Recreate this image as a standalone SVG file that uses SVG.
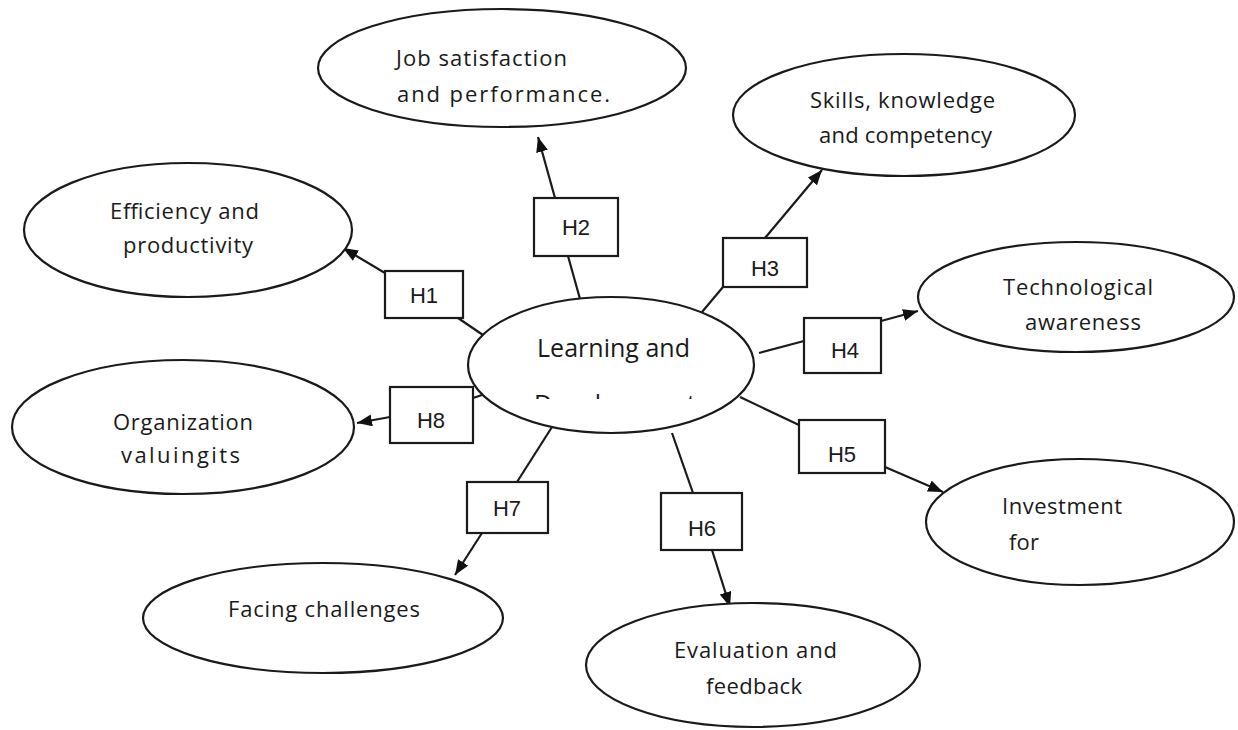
<svg xmlns="http://www.w3.org/2000/svg" width="1238" height="730" viewBox="0 0 1238 730">
<style>
  .node ellipse { fill: #fff; stroke: #1a1a1a; stroke-width: 2.2; }
  .box rect { fill: #fff; stroke: #1a1a1a; stroke-width: 2.2; }
  .lbl { font-family: "Open Sans", "Liberation Sans", sans-serif; font-size: 22px; fill: #1a1a1a; }
  .big { font-size: 25px; }
  .h { font-family: "Liberation Sans", Arial, sans-serif; font-size: 22px; fill: #1a1a1a; text-anchor: middle; }
  .conn line { stroke: #1a1a1a; stroke-width: 2.2; }
  .arr { marker-end: url(#ah); }
</style>
<defs>
  <marker id="ah" markerUnits="userSpaceOnUse" markerWidth="15" markerHeight="12" refX="15" refY="6" orient="auto">
    <path d="M0,0 L15,6 L0,12 z" fill="#111"/>
  </marker>
  <clipPath id="clipDev"><rect x="520" y="394" width="200" height="5"/></clipPath>
</defs>
<rect width="1238" height="730" fill="#fff"/>

<g id="connectors" class="conn">
  <line x1="483" y1="335" x2="458" y2="318"/>
  <line class="arr" x1="385" y1="273" x2="343" y2="248"/>
  <line x1="473" y1="398" x2="482" y2="395"/>
  <line class="arr" x1="390" y1="417" x2="357" y2="423"/>
  <line x1="580" y1="299" x2="568" y2="256"/>
  <line class="arr" x1="555" y1="198" x2="538" y2="137"/>
  <line x1="702" y1="312" x2="723" y2="287"/>
  <line class="arr" x1="765" y1="238" x2="822" y2="170"/>
  <line x1="759" y1="353" x2="804" y2="341"/>
  <line class="arr" x1="881" y1="321" x2="918" y2="311"/>
  <line x1="740" y1="397" x2="799" y2="425"/>
  <line class="arr" x1="885" y1="467" x2="943" y2="492"/>
  <line x1="672" y1="433" x2="693" y2="493"/>
  <line class="arr" x1="712" y1="550" x2="730" y2="607"/>
  <line x1="552" y1="427" x2="517" y2="482"/>
  <line class="arr" x1="482" y1="533" x2="455" y2="575"/>
</g>

<g id="node-center" class="node">
  <ellipse cx="611" cy="365" rx="143" ry="68"/>
  <text class="lbl big" x="537" y="357" textLength="153" lengthAdjust="spacing">Learning and</text>
  <text class="lbl big" x="534" y="413" textLength="162" lengthAdjust="spacing" clip-path="url(#clipDev)">Development</text>
</g>
<g id="node-job" class="node">
  <ellipse cx="502" cy="68" rx="184" ry="59"/>
  <text class="lbl" x="396" y="66" textLength="171" lengthAdjust="spacing">Job satisfaction</text>
  <text class="lbl" x="397" y="102" textLength="213" lengthAdjust="spacing">and performance.</text>
</g>
<g id="node-skills" class="node">
  <ellipse cx="904" cy="115" rx="171" ry="61"/>
  <text class="lbl" x="810" y="108" textLength="185" lengthAdjust="spacing">Skills, knowledge</text>
  <text class="lbl" x="819" y="143" textLength="173" lengthAdjust="spacing">and competency</text>
</g>
<g id="node-tech" class="node">
  <ellipse cx="1076" cy="297" rx="158" ry="55"/>
  <text class="lbl" x="1003" y="295" textLength="150" lengthAdjust="spacing">Technological</text>
  <text class="lbl" x="1025" y="330" textLength="116" lengthAdjust="spacing">awareness</text>
</g>
<g id="node-efficiency" class="node">
  <ellipse cx="188" cy="230" rx="164" ry="67"/>
  <text class="lbl" x="110" y="219" textLength="149" lengthAdjust="spacing">Efficiency and</text>
  <text class="lbl" x="123" y="253" textLength="130" lengthAdjust="spacing">productivity</text>
</g>
<g id="node-organization" class="node">
  <ellipse cx="183" cy="427" rx="171" ry="67"/>
  <text class="lbl" x="113" y="430" textLength="140" lengthAdjust="spacing">Organization</text>
  <text class="lbl" x="121" y="463" textLength="119" lengthAdjust="spacing">valuingits</text>
</g>
<g id="node-investment" class="node">
  <ellipse cx="1080" cy="522" rx="154" ry="63"/>
  <text class="lbl" x="1002" y="514" textLength="120" lengthAdjust="spacing">Investment</text>
  <text class="lbl" x="1009" y="550" textLength="30" lengthAdjust="spacing">for</text>
</g>
<g id="node-evaluation" class="node">
  <ellipse cx="753" cy="665" rx="167" ry="62"/>
  <text class="lbl" x="674" y="658" textLength="163" lengthAdjust="spacing">Evaluation and</text>
  <text class="lbl" x="706" y="694" textLength="96" lengthAdjust="spacing">feedback</text>
</g>
<g id="node-facing" class="node">
  <ellipse cx="323" cy="618" rx="180" ry="55"/>
  <text class="lbl" x="228" y="617" textLength="192" lengthAdjust="spacing">Facing challenges</text>
</g>

<g id="box-h1" class="box"><rect x="385" y="271" width="78" height="47"/><text class="h" x="424" y="303">H1</text></g>
<g id="box-h2" class="box"><rect x="534" y="198" width="84" height="58"/><text class="h" x="576" y="235">H2</text></g>
<g id="box-h3" class="box"><rect x="723" y="238" width="84" height="49"/><text class="h" x="765" y="276">H3</text></g>
<g id="box-h4" class="box"><rect x="804" y="318" width="77" height="55"/><text class="h" x="845" y="358">H4</text></g>
<g id="box-h5" class="box"><rect x="799" y="420" width="86" height="53"/><text class="h" x="842" y="462">H5</text></g>
<g id="box-h6" class="box"><rect x="661" y="493" width="81" height="57"/><text class="h" x="702" y="536">H6</text></g>
<g id="box-h7" class="box"><rect x="467" y="482" width="81" height="51"/><text class="h" x="507" y="516">H7</text></g>
<g id="box-h8" class="box"><rect x="390" y="387" width="83" height="56"/><text class="h" x="431" y="428">H8</text></g>
</svg>
